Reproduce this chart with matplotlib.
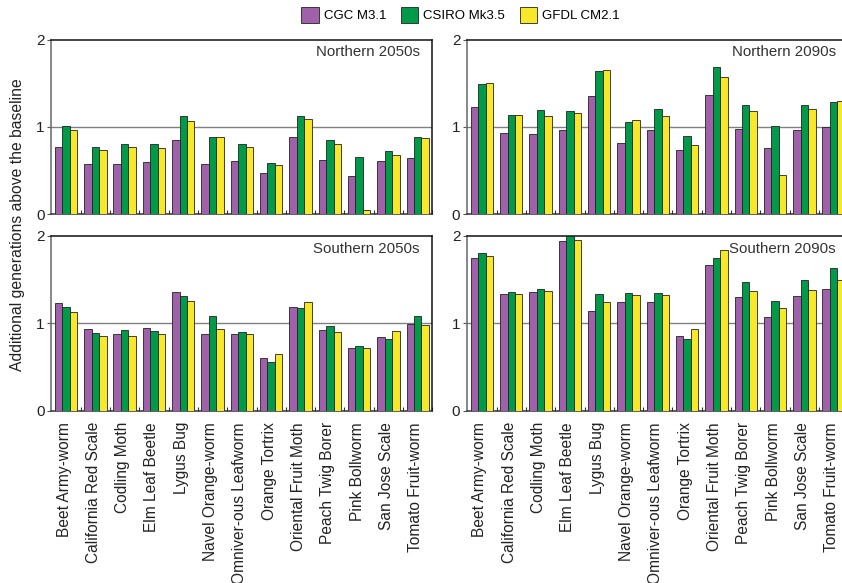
import numpy as np
import matplotlib.pyplot as plt
import matplotlib.transforms as mtransforms
from matplotlib.patches import Patch

plt.rcParams["font.family"] = ["Liberation Sans", "DejaVu Sans"]

#- Data -----------------------------------------------------------------------
pests = ["Beet Army-worm", "California Red Scale", "Codling Moth", "Elm Leaf Beetle",
         "Lygus Bug", "Navel Orange-worm", "Omniver-ous Leafworm", "Orange Tortrix",
         "Oriental Fruit Moth", "Peach Twig Borer", "Pink Bollworm", "San Jose Scale",
         "Tomato Fruit-worm"]
models = ["CGC M3.1", "CSIRO Mk3.5", "GFDL CM2.1"]
colors = ["#a060aa", "#009a48", "#f7e82a"]

north_2050_cgc   = [0.77, 0.58, 0.58, 0.60, 0.85, 0.58, 0.61, 0.47, 0.88, 0.62, 0.44, 0.61, 0.64]
north_2050_csiro = [1.01, 0.77, 0.80, 0.80, 1.12, 0.88, 0.81, 0.59, 1.13, 0.85, 0.65, 0.72, 0.88]
north_2050_gfdl  = [0.97, 0.74, 0.77, 0.76, 1.07, 0.89, 0.77, 0.56, 1.09, 0.81, 0.05, 0.68, 0.87]

north_2090_cgc   = [1.23, 0.93, 0.92, 0.96, 1.35, 0.82, 0.96, 0.73, 1.36, 0.98, 0.76, 0.96, 1.00]
north_2090_csiro = [1.49, 1.14, 1.19, 1.18, 1.64, 1.06, 1.21, 0.90, 1.68, 1.25, 1.01, 1.25, 1.29]
north_2090_gfdl  = [1.50, 1.14, 1.12, 1.16, 1.65, 1.08, 1.12, 0.79, 1.57, 1.18, 0.45, 1.20, 1.30]

south_2050_cgc   = [1.23, 0.93, 0.88, 0.95, 1.36, 0.88, 0.88, 0.60, 1.19, 0.92, 0.72, 0.84, 0.99]
south_2050_csiro = [1.19, 0.89, 0.92, 0.91, 1.31, 1.08, 0.90, 0.56, 1.17, 0.97, 0.74, 0.82, 1.08]
south_2050_gfdl  = [1.13, 0.86, 0.86, 0.88, 1.25, 0.93, 0.88, 0.65, 1.24, 0.90, 0.72, 0.91, 0.98]

south_2090_cgc   = [1.75, 1.33, 1.36, 1.94, 1.14, 1.24, 1.24, 0.86, 1.67, 1.30, 1.07, 1.31, 1.39]
south_2090_csiro = [1.80, 1.36, 1.39, 2.00, 1.33, 1.35, 1.35, 0.82, 1.74, 1.47, 1.25, 1.49, 1.63]
south_2090_gfdl  = [1.77, 1.34, 1.37, 1.95, 1.24, 1.32, 1.32, 0.94, 1.84, 1.37, 1.18, 1.38, 1.49]

panels = [
    ("Northern 2050s", [north_2050_cgc, north_2050_csiro, north_2050_gfdl]),
    ("Northern 2090s", [north_2090_cgc, north_2090_csiro, north_2090_gfdl]),
    ("Southern 2050s", [south_2050_cgc, south_2050_csiro, south_2050_gfdl]),
    ("Southern 2090s", [south_2090_cgc, south_2090_csiro, south_2090_gfdl]),
]

#- Layout (figure fractions) ---------------------------------------------------
fig = plt.figure(figsize=(8.42, 5.83), dpi=100)
W, H = 842.0, 583.0
rects = [
    (51.4 / W, 1 - 214.3 / H, 381.0 / W, 174.8 / H),
    (467.3 / W, 1 - 214.3 / H, 381.0 / W, 174.8 / H),
    (51.4 / W, 1 - 411.0 / H, 381.0 / W, 175.3 / H),
    (467.3 / W, 1 - 411.0 / H, 381.0 / W, 175.3 / H),
]

x = np.arange(len(pests))
bw = 0.255
edge = "#222222"

for idx, ((title, series), rect) in enumerate(zip(panels, rects)):
    ax = fig.add_axes(rect)
    for k, vals in enumerate(series):
        ax.bar(x + (k - 1) * bw, vals, width=bw, color=colors[k],
               edgecolor=edge, linewidth=0.6, zorder=3)
    ax.axhline(1, color="#808080", linewidth=1.0, zorder=1)
    ax.set_xlim(-0.5, len(pests) - 0.5)
    ax.set_ylim(0, 2)
    ax.set_yticks([0, 1, 2])
    ax.set_yticklabels(["0", "1", "2"])
    ax.tick_params(axis="y", length=3, width=0.8, pad=2, labelsize=11,
                   color="#555555", labelcolor="#222222")
    # group boundary ticks along the bottom
    ax.set_xticks(x + 0.5, minor=True)
    ax.tick_params(axis="x", which="minor", direction="in", length=3, width=0.8,
                   color="#333333")
    ax.set_xticks(x)
    ax.tick_params(axis="x", which="major", length=0, pad=8)
    if idx >= 2:
        ax.set_xticklabels(pests, rotation=90, fontsize=11.2, color="#222222",
                           ha="center", va="top")
        shift = mtransforms.ScaledTranslation(-2 / 100, 0, fig.dpi_scale_trans)
        for lab in ax.get_xticklabels():
            lab.set_transform(lab.get_transform() + shift)
    else:
        ax.set_xticklabels([])
    for side in ["top", "right"]:
        ax.spines[side].set_color("#111111")
        ax.spines[side].set_linewidth(1.1)
    ax.spines["left"].set_color("#666666")
    ax.spines["left"].set_linewidth(1.1)
    ax.spines["bottom"].set_color("#333333")
    ax.spines["bottom"].set_linewidth(1.1)
    ax.text(0.967, 0.926, title, transform=ax.transAxes, ha="right", va="center",
            fontsize=10.8, color="#333333")

fig.text(18 / W, 1 - 225 / H, "Additional generations above the baseline",
         rotation=90, ha="center", va="center", fontsize=11.3, color="#222222")

handles = [Patch(facecolor=c, edgecolor=edge, linewidth=0.6) for c in colors]
fig.legend(handles, models, loc="center", bbox_to_anchor=(0.547, 1 - 15 / H),
           ncol=3, frameon=False, fontsize=9.5, handlelength=1.3, handleheight=1.5,
           handletextpad=0.4, columnspacing=1.1)

fig.savefig("out.png", dpi=100)
